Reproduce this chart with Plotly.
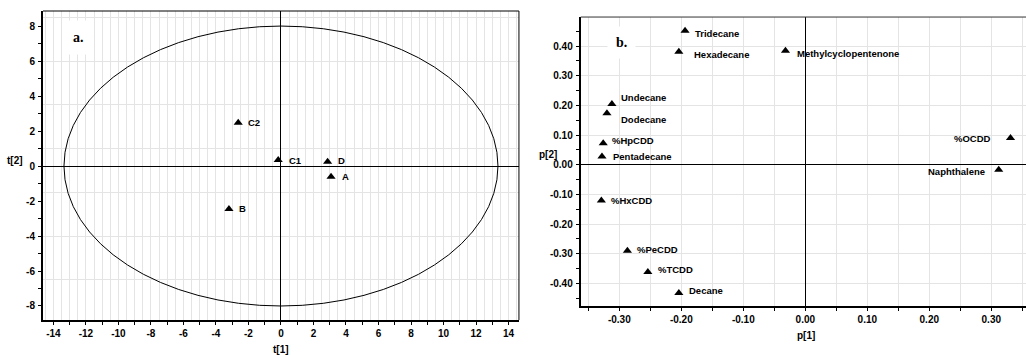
import plotly.graph_objects as go

# ---- data: panel a (scores) ----
score_names = ["C2", "C1", "D", "A", "B"]
score_t1 = [-2.63, -0.17, 2.87, 3.08, -3.2]
score_t2 = [2.47, 0.34, 0.25, -0.61, -2.46]

# ---- data: panel b (loadings) ----
load_names = ["Tridecane", "Hexadecane", "Methylcyclopentenone", "Undecane", "Dodecane",
              "%HpCDD", "Pentadecane", "%OCDD", "Naphthalene", "%HxCDD", "%PeCDD",
              "%TCDD", "Decane"]
load_p1 = [-0.194, -0.204, -0.032, -0.312, -0.320, -0.326, -0.328, 0.331, 0.312,
           -0.329, -0.287, -0.254, -0.204]
load_p2 = [0.452, 0.381, 0.384, 0.205, 0.174, 0.073, 0.028, 0.090, -0.017,
           -0.120, -0.290, -0.361, -0.432]

# ---- tick labels ----
a_x_ticks = list(range(-14, 15))
a_x_text = [str(v) if v % 2 == 0 else "" for v in a_x_ticks]
a_y_ticks = list(range(-8, 9))
a_y_text = [str(v) if v % 2 == 0 else "" for v in a_y_ticks]
b_x_ticks = [-0.35, -0.30, -0.25, -0.20, -0.15, -0.10, -0.05, 0.00, 0.05, 0.10, 0.15, 0.20, 0.25, 0.30, 0.35]
b_x_text = ["", "-0.30", "", "-0.20", "", "-0.10", "", "0.00", "", "0.10", "", "0.20", "", "0.30", ""]
b_y_ticks = [-0.45, -0.40, -0.35, -0.30, -0.25, -0.20, -0.15, -0.10, -0.05, 0.00, 0.05, 0.10, 0.15, 0.20, 0.25, 0.30, 0.35, 0.40, 0.45]
b_y_text = ["", "-0.40", "", "-0.30", "", "-0.20", "", "-0.10", "", "0.00", "", "0.10", "", "0.20", "", "0.30", "", "0.40", ""]

# Hotelling ellipse semi-axes
ell_a, ell_b = 13.35, 8.0

# ---- label placement style (pixel offsets) ----
score_lbl_style = {"C2": (8, 0), "C1": (9, 0), "D": (8, 1), "A": (9, 0), "B": (8, 1)}
load_lbl_style = {
    "Tridecane": ("left", 8, -3), "Hexadecane": ("left", 13, -3),
    "Methylcyclopentenone": ("left", 10, -3), "Undecane": ("left", 7, 6),
    "Dodecane": ("left", 12, -6), "%HpCDD": ("left", 7, 3),
    "Pentadecane": ("left", 9, 0), "%OCDD": ("right", -18, 0),
    "Naphthalene": ("right", -12, -2), "%HxCDD": ("left", 8, 0),
    "%PeCDD": ("left", 8, 1), "%TCDD": ("left", 8, 2), "Decane": ("left", 8, 2),
}

FONT = "Liberation Sans, Arial, sans-serif"
GRID = "#e4e4e4"

fig = go.Figure()
fig.add_trace(go.Scatter(x=score_t1, y=score_t2, mode="markers", xaxis="x", yaxis="y",
                         marker=dict(symbol="triangle-up", size=8, color="black"),
                         showlegend=False, hoverinfo="skip"))
fig.add_trace(go.Scatter(x=load_p1, y=load_p2, mode="markers", xaxis="x2", yaxis="y2",
                         marker=dict(symbol="triangle-up", size=8, color="black"),
                         showlegend=False, hoverinfo="skip"))

tickfont = dict(family=FONT, size=10, color="black", weight="bold")

fig.update_layout(
    width=1026, height=355, margin=dict(l=0, r=0, t=0, b=0, autoexpand=False),
    paper_bgcolor="white", plot_bgcolor="white",
    xaxis=dict(domain=[0.0419, 0.5058], range=[-14.64, 14.64], anchor="y", automargin=False,
               tickmode="array", tickvals=a_x_ticks, ticktext=a_x_text,
               ticks="outside", ticklen=3, tickcolor="black", tickfont=tickfont,
               showgrid=True, gridcolor=GRID, gridwidth=1,
               minor=dict(dtick=0.5, tick0=0, showgrid=True, gridcolor=GRID, ticks=""),
               zeroline=True, zerolinecolor="black", zerolinewidth=1,
               showline=True, linecolor="black", linewidth=2, ticklabelstandoff=0),
    yaxis=dict(domain=[0.0986, 0.969], range=[-8.8, 8.86], anchor="x", automargin=False,
               tickmode="array", tickvals=a_y_ticks, ticktext=a_y_text,
               ticks="outside", ticklen=3, tickcolor="black", tickfont=tickfont,
               showgrid=False,
               minor=dict(tick0=1, dtick=2.5, showgrid=True, gridcolor=GRID, ticks=""),
               zeroline=True, zerolinecolor="black", zerolinewidth=1,
               showline=True, linecolor="black", linewidth=2, ticklabelstandoff=1),
    xaxis2=dict(domain=[0.566, 1.0], range=[-0.3623, 0.356], anchor="y2", automargin=False,
                tickmode="array", tickvals=b_x_ticks, ticktext=b_x_text,
                ticks="outside", ticklen=3, tickcolor="black", tickfont=tickfont,
                showgrid=True, gridcolor=GRID, gridwidth=1,
                zeroline=True, zerolinecolor="black", zerolinewidth=1,
                showline=True, linecolor="black", linewidth=2, ticklabelstandoff=0),
    yaxis2=dict(domain=[0.138, 0.952], range=[-0.476, 0.498], anchor="x2", automargin=False,
                tickmode="array", tickvals=b_y_ticks, ticktext=b_y_text,
                ticks="outside", ticklen=3, tickcolor="black", tickfont=tickfont,
                showgrid=False,
                minor=dict(tick0=0, dtick=0.1, showgrid=True, gridcolor=GRID, ticks=""),
                zeroline=True, zerolinecolor="black", zerolinewidth=1,
                showline=True, linecolor="black", linewidth=2, ticklabelstandoff=1),
)

# ellipse and frame lines
fig.add_shape(type="circle", xref="x", yref="y", x0=-ell_a, x1=ell_a, y0=-ell_b, y1=ell_b,
              line=dict(color="black", width=1), layer="above")
fig.add_shape(type="line", xref="x domain", yref="y domain", x0=0, x1=1, y0=1, y1=1,
              line=dict(color="black", width=1))
fig.add_shape(type="line", xref="x domain", yref="y domain", x0=1, x1=1, y0=0, y1=1,
              line=dict(color="black", width=1))
fig.add_shape(type="line", xref="x2 domain", yref="y2 domain", x0=0, x1=1, y0=1, y1=1,
              line=dict(color="#333333", width=1))

annots = []
for n, x, y in zip(score_names, score_t1, score_t2):
    dx, dy = score_lbl_style[n]
    annots.append(dict(x=x, y=y, xref="x", yref="y", text=f"<b>{n}</b>", showarrow=False,
                       xanchor="left", yanchor="middle", xshift=dx, yshift=dy,
                       font=dict(family=FONT, size=9.5, color="black")))
for n, x, y in zip(load_names, load_p1, load_p2):
    anc, dx, dy = load_lbl_style[n]
    annots.append(dict(x=x, y=y, xref="x2", yref="y2", text=f"<b>{n}</b>", showarrow=False,
                       xanchor=anc, yanchor="middle", xshift=dx, yshift=dy,
                       font=dict(family=FONT, size=9.5, color="black")))

# panel letters
annots.append(dict(x=0.0746, y=0.913, xref="x domain", yref="y domain", text="<b>a.</b>",
                   showarrow=False, bgcolor="white", borderpad=9, xanchor="center", yanchor="middle",
                   font=dict(family="Liberation Serif, Times New Roman, serif", size=14, color="black")))
annots.append(dict(x=0.0916, y=0.912, xref="x2 domain", yref="y2 domain", text="<b>b.</b>",
                   showarrow=False, bgcolor="white", borderpad=8, xanchor="center", yanchor="middle",
                   font=dict(family="Liberation Serif, Times New Roman, serif", size=14, color="black")))

# axis titles
def title(x, y, t):
    annots.append(dict(x=x / 1026, y=1 - y / 355, xref="paper", yref="paper", text=f"<b>{t}</b>",
                       showarrow=False, xanchor="center", yanchor="middle",
                       font=dict(family=FONT, size=10, color="black")))

title(15, 160, "t[2]")
title(281, 349, "t[1]")
title(548, 154, "p[2]")
title(806, 335, "p[1]")

fig.update_layout(annotations=annots)
fig.write_html("out.html", config={"displayModeBar": False},
               post_script="document.body.style.margin='0';document.body.style.padding='0';document.body.style.overflow='hidden';")
